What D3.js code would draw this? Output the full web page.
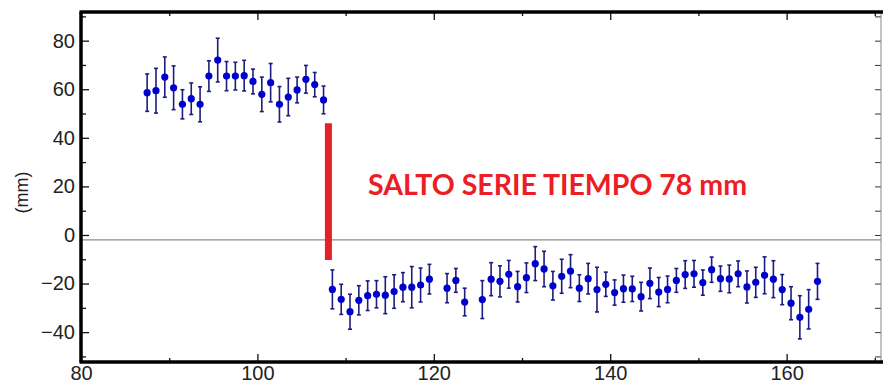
<html>
<head>
<meta charset="UTF-8">
<title>Salto serie tiempo</title>
<script src="https://d3js.org/d3.v7.min.js"></script>
<style>
html,body{margin:0;padding:0;background:#fff;}
#container{width:883px;height:387px;}
.tick text{font-family:"Liberation Sans",Arial,sans-serif;font-size:20px;fill:#222;}
</style>
</head>
<body>
<div id="container"></div>
<script>
// epochs (x) and displacement in mm, with error bar half-widths
const xBefore = [87.5,88.5,89.5,90.5,91.5,92.5,93.5,94.5,95.5,96.5,97.5,98.5,99.5,100.5,101.5,102.5,103.5,104.5,105.5,106.5,107.5]
const yBefore = [58.6,59.4,65.0,60.6,53.8,56.1,53.8,65.4,72.0,65.4,65.4,65.6,63.2,57.9,62.7,53.8,56.8,59.7,64.1,61.9,55.6]
const eBefore = [7.7,9.2,8.3,9.0,6.0,6.5,7.2,6.3,9.0,6.0,5.7,6.3,5.1,7.1,7.9,7.3,7.7,5.3,5.7,5.0,5.7]

const xAfter = [108.5,109.5,110.5,111.5,112.5,113.5,114.5,115.5,116.5,117.5,118.5,119.5,
    121.5,122.5,123.5,
    125.5,126.5,127.5,128.5,129.5,130.5,131.5,132.5,133.5,134.5,135.5,136.5,137.5,138.5,
    139.5,140.5,141.5,142.5,143.5,144.5,145.5,146.5,147.5,148.5,149.5,150.5,151.5,152.5,
    153.5,154.5,155.5,156.5,157.5,158.5,159.5,160.5,161.5,162.5,163.5]
const yAfter = [-22.4,-26.5,-31.6,-26.9,-25.0,-24.4,-24.8,-23.3,-21.5,-21.5,-20.6,-18.2,
    -21.9,-18.7,-27.6,
    -26.6,-18.2,-19.1,-16.2,-21.3,-17.6,-11.8,-14.0,-20.9,-17.0,-14.9,-21.9,-18.0,-22.5,
    -20.3,-23.7,-22.1,-22.2,-25.4,-19.9,-23.5,-22.4,-18.7,-16.3,-16.0,-19.6,-14.3,-18.0,
    -18.1,-16.0,-21.4,-19.5,-16.6,-18.2,-22.5,-28.1,-33.9,-30.6,-19.1]
const eAfter = [8.0,6.2,7.2,6.0,6.1,5.6,7.6,6.9,6.0,8.5,7.0,6.1,
    6.0,4.9,5.7,
    7.8,6.8,6.4,5.7,6.3,6.1,7.0,7.3,5.9,7.0,6.8,5.5,6.3,9.2,
    5.0,5.2,5.6,5.2,5.9,6.3,6.0,5.5,4.9,5.7,5.5,5.2,5.2,5.2,
    5.7,5.3,6.6,6.2,7.6,7.6,6.2,6.8,8.9,8.1,7.4]

const xTicks = [80,100,120,140,160]
const yTicks = [-40,-20,0,20,40,60,80]
const refLevel = -2
const jumpX = 108.05, jumpTop = 46, jumpBottom = -10.3
const jumpLabel = "SALTO SERIE TIEMPO 78 mm"
const yLabel = "(mm)"

const points = xBefore.map((x,i) => ({x:x, y:yBefore[i], e:eBefore[i]}))
    .concat(xAfter.map((x,i) => ({x:x, y:yAfter[i], e:eAfter[i]})))

const W = 883, H = 387
const xScale = d3.scaleLinear().domain([80,170.7]).range([81,881])
const yScale = d3.scaleLinear().domain([-52.3,91.8]).range([362,12])

const svg = d3.select("#container").append("svg")
    .attr("width", W).attr("height", H)

// minor ticks every 10
const xMinor = d3.range(90,171,20), yMinor = d3.range(-50,91,20)

function tickAxis(axis, values, size, tr, labels, pad) {
    const g = svg.append("g").attr("transform", tr)
        .call(axis.tickValues(values).tickSize(size).tickPadding(pad || 6)
            .tickFormat(labels ? d3.format("") : ""))
    g.select(".domain").remove()
    g.selectAll(".tick line").attr("stroke", "#111").attr("stroke-width", 1.3)
    return g
}
const bottomY = yScale.range()[0], topY = yScale.range()[1]
const leftX = xScale.range()[0], rightX = xScale.range()[1]

tickAxis(d3.axisBottom(xScale), xTicks, -8, "translate(0," + bottomY + ")", true, 4)
tickAxis(d3.axisBottom(xScale), xMinor, -4, "translate(0," + bottomY + ")", false)
tickAxis(d3.axisTop(xScale), xTicks, -8, "translate(0," + topY + ")", false)
tickAxis(d3.axisTop(xScale), xMinor, -4, "translate(0," + topY + ")", false)
tickAxis(d3.axisLeft(yScale), yTicks, -8, "translate(" + leftX + ",0)", true)
    .selectAll("text").text(d => d < 0 ? "\u2212" + Math.abs(d) : d)
tickAxis(d3.axisLeft(yScale), yMinor, -5, "translate(" + leftX + ",0)", false)
tickAxis(d3.axisRight(yScale), d3.range(-50,91,10), -6, "translate(" + rightX + ",0)", false)
    .selectAll(".tick line").attr("stroke", "#333").attr("stroke-width", 1)

// reference line
svg.append("line")
    .attr("x1", leftX).attr("x2", rightX)
    .attr("y1", yScale(refLevel)).attr("y2", yScale(refLevel))
    .attr("stroke", "#8c8c8c").attr("stroke-width", 1.2)

// frame
svg.append("line").attr("x1", rightX).attr("x2", rightX).attr("y1", topY).attr("y2", bottomY)
    .attr("stroke", "#888").attr("stroke-width", 1)
svg.append("line").attr("x1", leftX - 1.5).attr("x2", W).attr("y1", topY).attr("y2", topY)
    .attr("stroke", "#000").attr("stroke-width", 3.5)
svg.append("line").attr("x1", leftX - 1.5).attr("x2", W).attr("y1", bottomY).attr("y2", bottomY)
    .attr("stroke", "#000").attr("stroke-width", 3.5)
svg.append("line").attr("x1", leftX).attr("x2", leftX).attr("y1", topY).attr("y2", bottomY)
    .attr("stroke", "#000").attr("stroke-width", 3.5)

// error bars
const bars = svg.append("g").attr("stroke", "#1d1d80").attr("stroke-width", 1.6)
points.forEach(p => {
    const cx = xScale(p.x)
    bars.append("line").attr("x1", cx).attr("x2", cx)
        .attr("y1", yScale(p.y + p.e)).attr("y2", yScale(p.y - p.e))
    ;[p.y + p.e, p.y - p.e].forEach(v => {
        bars.append("line").attr("x1", cx - 2).attr("x2", cx + 2)
            .attr("y1", yScale(v)).attr("y2", yScale(v))
    })
})

svg.selectAll(".dot").data(points).enter().append("circle")
    .attr("class", "dot")
    .attr("cx", d => xScale(d.x))
    .attr("cy", d => yScale(d.y))
    .attr("r", 3.6)
    .attr("fill", "#0000cc")

// jump marker
svg.append("line")
    .attr("x1", xScale(jumpX)).attr("x2", xScale(jumpX))
    .attr("y1", yScale(jumpTop)).attr("y2", yScale(jumpBottom))
    .attr("stroke", "#e32228").attr("stroke-width", 7)

svg.append("text")
    .attr("x", 368).attr("y", 195)
    .attr("font-family", "Lato, 'Open Sans', sans-serif")
    .attr("font-weight", "bold")
    .attr("font-size", 28.5)
    .attr("fill", "#ee1c25")
    .text(jumpLabel)

svg.append("text")
    .attr("transform", "translate(28," + yScale(17.5) + ") rotate(-90)")
    .attr("text-anchor", "middle")
    .attr("font-family", "'Liberation Sans', Arial, sans-serif")
    .attr("font-size", 18)
    .attr("fill", "#222")
    .text(yLabel)
</script>
</body>
</html>
